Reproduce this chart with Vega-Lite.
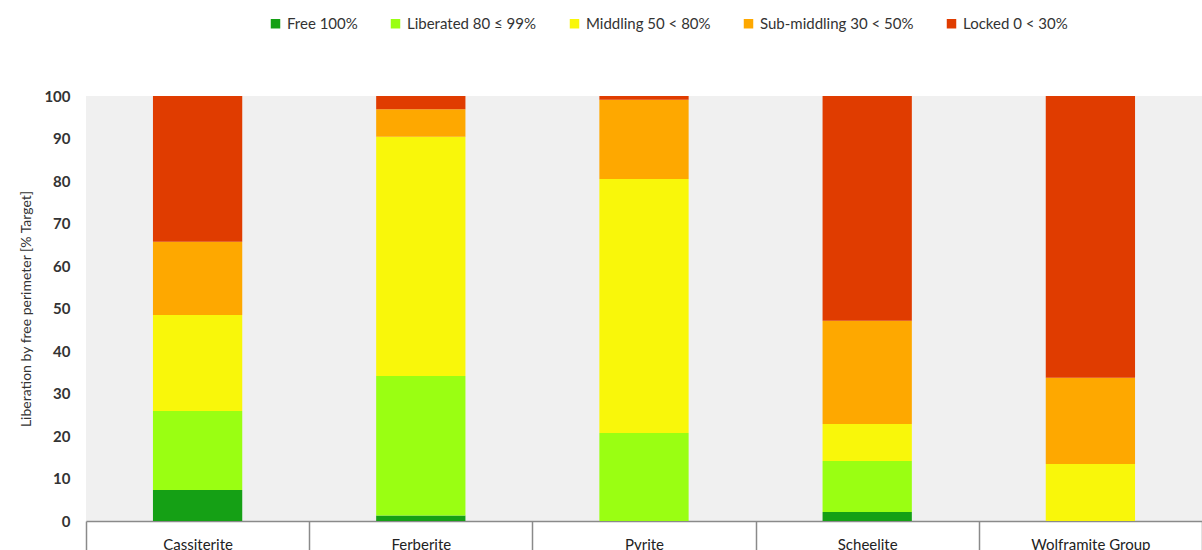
{
  "$schema": "https://vega.github.io/schema/vega-lite/v6.json",
  "autosize": {"type": "none"},
  "padding": {"left": 86, "top": 96, "right": 0, "bottom": 29},
  "width": 1116,
  "height": 425,
  "background": "white",
  "config": {
    "view": {"fill": "#f0f0f0", "stroke": null},
    "font": "Lato",
    "axis": {"labelFont": "Lato", "titleFont": "Lato"},
    "legend": {"labelFont": "Lato"}
  },
  "data": {
    "values": [
      {"mineral": "Cassiterite", "class": "Free 100%", "pct": 7.3},
      {"mineral": "Cassiterite", "class": "Liberated 80 ≤ 99%", "pct": 18.6},
      {"mineral": "Cassiterite", "class": "Middling 50 < 80%", "pct": 22.6},
      {"mineral": "Cassiterite", "class": "Sub-middling 30 < 50%", "pct": 17.2},
      {"mineral": "Cassiterite", "class": "Locked 0 < 30%", "pct": 34.3},
      {"mineral": "Ferberite", "class": "Free 100%", "pct": 1.3},
      {"mineral": "Ferberite", "class": "Liberated 80 ≤ 99%", "pct": 32.8},
      {"mineral": "Ferberite", "class": "Middling 50 < 80%", "pct": 56.3},
      {"mineral": "Ferberite", "class": "Sub-middling 30 < 50%", "pct": 6.5},
      {"mineral": "Ferberite", "class": "Locked 0 < 30%", "pct": 3.1},
      {"mineral": "Pyrite", "class": "Free 100%", "pct": 0},
      {"mineral": "Pyrite", "class": "Liberated 80 ≤ 99%", "pct": 20.7},
      {"mineral": "Pyrite", "class": "Middling 50 < 80%", "pct": 59.8},
      {"mineral": "Pyrite", "class": "Sub-middling 30 < 50%", "pct": 18.6},
      {"mineral": "Pyrite", "class": "Locked 0 < 30%", "pct": 0.9},
      {"mineral": "Scheelite", "class": "Free 100%", "pct": 2.1},
      {"mineral": "Scheelite", "class": "Liberated 80 ≤ 99%", "pct": 12.0},
      {"mineral": "Scheelite", "class": "Middling 50 < 80%", "pct": 8.7},
      {"mineral": "Scheelite", "class": "Sub-middling 30 < 50%", "pct": 24.3},
      {"mineral": "Scheelite", "class": "Locked 0 < 30%", "pct": 52.9},
      {"mineral": "Wolframite Group", "class": "Free 100%", "pct": 0},
      {"mineral": "Wolframite Group", "class": "Liberated 80 ≤ 99%", "pct": 0},
      {"mineral": "Wolframite Group", "class": "Middling 50 < 80%", "pct": 13.4},
      {"mineral": "Wolframite Group", "class": "Sub-middling 30 < 50%", "pct": 20.3},
      {"mineral": "Wolframite Group", "class": "Locked 0 < 30%", "pct": 66.3}
    ]
  },
  "transform": [
    {"calculate": "indexof(['Free 100%', 'Liberated 80 ≤ 99%', 'Middling 50 < 80%', 'Sub-middling 30 < 50%', 'Locked 0 < 30%'], datum['class'])", "as": "stackOrder"}
  ],
  "mark": {"type": "bar", "width": {"band": 0.4}},
  "encoding": {
    "x": {
      "field": "mineral",
      "type": "nominal",
      "sort": null,
      "scale": {"paddingInner": 0, "paddingOuter": 0},
      "axis": {
        "title": null,
        "labelAngle": 0,
        "labelFontSize": 15,
        "labelColor": "#222",
        "labelBaseline": "top",
        "labelPadding": -14,
        "domainColor": "#8a8a8a",
        "domainWidth": 1.5,
        "ticks": true,
        "tickBand": "extent",
        "tickSize": 30,
        "tickColor": "#8a8a8a",
        "tickWidth": 1.5
      }
    },
    "y": {
      "field": "pct",
      "type": "quantitative",
      "stack": "zero",
      "scale": {"domain": [0, 100], "nice": false},
      "axis": {
        "title": "Liberation by free perimeter [% Target]",
        "titleFontSize": 14,
        "titleFontWeight": "normal",
        "titleColor": "#333",
        "titlePadding": 10,
        "values": [0, 10, 20, 30, 40, 50, 60, 70, 80, 90, 100],
        "labelOverlap": false,
        "ticks": false,
        "domain": false,
        "grid": false,
        "labelPadding": 16,
        "labelFontSize": 15,
        "labelFontWeight": "bold",
        "labelColor": "#333"
      }
    },
    "order": {"field": "stackOrder", "type": "quantitative", "sort": "ascending"},
    "color": {
      "field": "class",
      "type": "nominal",
      "scale": {
        "domain": ["Free 100%", "Liberated 80 ≤ 99%", "Middling 50 < 80%", "Sub-middling 30 < 50%", "Locked 0 < 30%"],
        "range": ["#15a015", "#9aff12", "#f9f70a", "#fea800", "#e03c00"]
      },
      "legend": {
        "title": null,
        "orient": "none",
        "direction": "horizontal",
        "legendX": 182,
        "legendY": -80,
        "symbolType": "square",
        "symbolSize": 90,
        "symbolStrokeWidth": 0,
        "labelFontSize": 15,
        "labelColor": "#333",
        "labelOffset": 4,
        "columnPadding": 30
      }
    }
  }
}
